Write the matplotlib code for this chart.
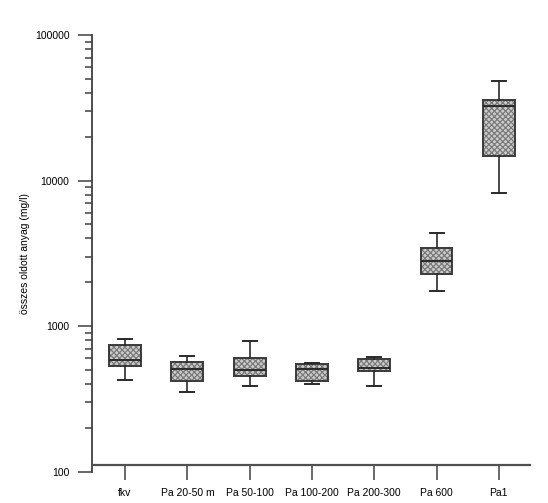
import numpy as np
import matplotlib
matplotlib.use("Agg")
import matplotlib.pyplot as plt

plt.rcParams["font.family"] = ["Liberation Sans", "DejaVu Sans"]
plt.rcParams["hatch.linewidth"] = 0.9

# box statistics (mg/l)
categories = ["fkv", "Pa 20-50 m", "Pa 50-100", "Pa 100-200", "Pa 200-300", "Pa 600", "Pa1"]
whisker_low = [425, 351, 390, 403, 390, 1733, 8220]
box_low = [530, 420, 454, 420, 492, 2294, 14860]
medians = [583, 508, 503, 508, 513, 2793, 32500]
box_high = [740, 565, 604, 553, 595, 3467, 35600]
whisker_high = [815, 624, 792, 558, 614, 4335, 48200]

stats = []
for i, name in enumerate(categories):
    stats.append({
        "label": name,
        "whislo": whisker_low[i],
        "q1": box_low[i],
        "med": medians[i],
        "q3": box_high[i],
        "whishi": whisker_high[i],
        "fliers": [],
    })

fig = plt.figure(figsize=(5.48, 5.03), dpi=100)
ax = fig.add_axes([91.7 / 548, 1 - 471.7 / 503, (530 - 91.7) / 548, (471.7 - 35) / 503])

positions = np.arange(len(categories))
bp = ax.bxp(
    stats,
    positions=positions,
    widths=0.51,
    capwidths=0.225,
    patch_artist=True,
    showfliers=False,
    boxprops=dict(facecolor="#cdcdcd", edgecolor="#3a3a3a", linewidth=1.4, hatch="xxxxxx"),
    medianprops=dict(color="#2a2a2a", linewidth=1.4),
    whiskerprops=dict(color="#2a2a2a", linewidth=1.2),
    capprops=dict(color="#2a2a2a", linewidth=1.4),
)
for box in bp["boxes"]:
    box._hatch_color = matplotlib.colors.to_rgba("#7a7a7a")

ax.set_yscale("log")
ax.set_ylim(100, 100000)
ax.set_xlim(-0.535, 6.5)
ax.set_yticks([100, 1000, 10000, 100000])
ax.set_yticklabels(["100", "1000", "10000", "100000"])
ax.set_xticks(positions)
ax.set_xticklabels(categories)

for side in ["top", "right"]:
    ax.spines[side].set_visible(False)
ax.spines["left"].set_color("#404040")
ax.spines["left"].set_linewidth(1.3)
ax.spines["bottom"].set_color("#505050")
ax.spines["bottom"].set_linewidth(1.6)
ax.spines["bottom"].set_position(("data", 110.5))
ax.spines["bottom"].set_bounds(-0.51, 6.5)

ax.tick_params(axis="y", which="major", length=10, width=1.1, color="#404040", labelsize=7.5, pad=6)
ax.tick_params(axis="y", which="minor", length=5, width=1.1, color="#404040")
ax.tick_params(axis="x", length=10.5, width=1.1, color="#404040", labelsize=7.5, pad=6)

ax.set_ylabel("összes oldott anyag (mg/l)", fontsize=7.5)
ax.yaxis.set_label_coords(-0.141, 0.5)

fig.savefig("out.png", dpi=100)
